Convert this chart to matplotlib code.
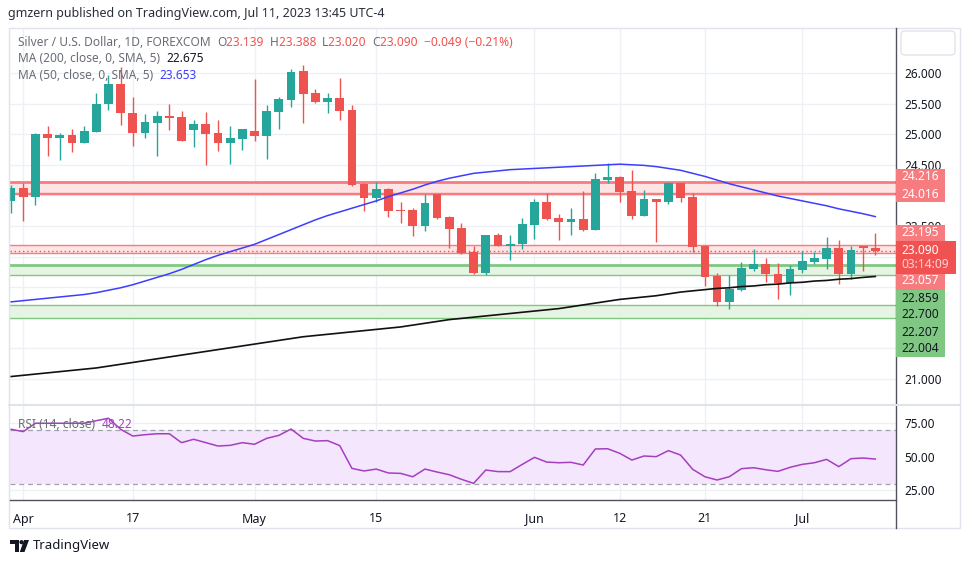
import matplotlib
matplotlib.use('Agg')
import matplotlib.pyplot as plt
from matplotlib.patches import Rectangle, FancyBboxPatch, Polygon, Circle

plt.rcParams['font.family'] = ['Noto Sans', 'DejaVu Sans']

# дневные свечи XAG/USD, 31 мар - 11 июл 2023
o = [23.913, 24.126, 23.979, 25.003, 24.943, 24.987, 24.861, 25.041, 25.489, 25.820,
     25.351, 25.025, 25.188, 25.297, 25.276, 25.074, 25.167, 25.020, 24.861, 24.927,
     25.052, 24.971, 25.368, 25.559, 26.033, 25.668, 25.531, 25.592, 25.395, 24.186,
     23.962, 24.105, 23.761, 23.761, 23.505, 24.018, 23.647, 23.467, 23.075, 22.737,
     23.353, 23.173, 23.201, 23.516, 23.892, 23.625, 23.570, 23.614, 23.435, 24.257,
     24.296, 24.072, 23.668, 23.936, 23.897, 24.208, 23.969, 23.173, 22.683, 22.263,
     22.454, 22.797, 22.879, 22.716, 22.564, 22.781, 22.907, 22.961, 23.136, 22.716,
     23.173, 23.139]
h = [24.170, 24.198, 25.025, 25.134, 25.025, 25.085, 25.134, 25.668, 25.967, 26.093,
     25.613, 25.325, 25.379, 25.493, 25.379, 25.232, 25.363, 25.232, 25.134, 25.085,
     25.902, 25.477, 25.613, 26.060, 26.131, 25.739, 25.668, 25.913, 25.477, 24.208,
     24.224, 24.126, 23.897, 23.789, 24.018, 24.018, 23.663, 23.544, 23.173, 23.353,
     23.391, 23.353, 23.626, 23.941, 24.044, 23.696, 23.789, 24.072, 24.361, 24.525,
     24.317, 24.415, 24.088, 23.936, 24.224, 24.208, 24.034, 23.190, 22.737, 22.699,
     22.907, 23.124, 22.972, 22.900, 22.863, 23.092, 23.070, 23.315, 23.271, 23.173,
     23.173, 23.388]
l = [23.717, 23.587, 23.843, 24.644, 24.578, 24.714, 24.851, 25.041, 25.395, 25.150,
     24.807, 24.943, 24.644, 25.069, 24.894, 24.796, 24.497, 24.730, 24.513, 24.742,
     24.894, 24.595, 25.085, 25.449, 25.178, 25.515, 25.341, 25.232, 24.154, 23.750,
     23.897, 23.652, 23.554, 23.342, 23.423, 23.614, 23.136, 23.047, 22.716, 22.699,
     23.173, 22.944, 23.124, 23.288, 23.598, 23.271, 23.353, 23.423, 23.435, 24.208,
     23.897, 23.614, 23.668, 23.243, 23.855, 23.897, 23.080, 22.525, 22.198, 22.144,
     22.443, 22.770, 22.590, 22.307, 22.373, 22.737, 22.879, 22.797, 22.552, 22.634,
     22.765, 23.020]
c = [24.116, 23.979, 25.003, 24.943, 24.987, 24.861, 25.052, 25.493, 25.820, 25.341,
     25.025, 25.199, 25.297, 25.270, 24.894, 25.167, 25.008, 24.861, 24.933, 25.085,
     24.971, 25.379, 25.575, 26.021, 25.662, 25.526, 25.587, 25.384, 24.170, 23.962,
     24.105, 23.750, 23.745, 23.505, 23.871, 23.636, 23.456, 23.064, 22.737, 23.353,
     23.178, 23.201, 23.533, 23.892, 23.614, 23.570, 23.614, 23.435, 24.263, 24.296,
     24.056, 23.668, 23.936, 23.897, 24.208, 23.962, 23.162, 22.672, 22.263, 22.471,
     22.809, 22.879, 22.711, 22.574, 22.792, 22.928, 22.972, 23.136, 22.716, 23.108,
     23.145, 23.090]

ma200 = [21.04, 21.06, 21.08, 21.10, 21.12, 21.14, 21.16, 21.18, 21.21, 21.24,
         21.27, 21.30, 21.33, 21.36, 21.39, 21.42, 21.45, 21.48, 21.51, 21.54,
         21.57, 21.60, 21.63, 21.66, 21.69, 21.71, 21.73, 21.75, 21.77, 21.79,
         21.81, 21.83, 21.85, 21.88, 21.91, 21.94, 21.97, 21.99, 22.01, 22.03,
         22.05, 22.07, 22.09, 22.11, 22.13, 22.15, 22.18, 22.21, 22.24, 22.27,
         22.30, 22.32, 22.34, 22.36, 22.39, 22.42, 22.44, 22.46, 22.48, 22.49,
         22.51, 22.52, 22.54, 22.55, 22.57, 22.58, 22.60, 22.61, 22.63, 22.64,
         22.66, 22.675]
ma50 = [22.26, 22.28, 22.30, 22.32, 22.34, 22.36, 22.38, 22.41, 22.45, 22.49,
        22.54, 22.60, 22.66, 22.72, 22.79, 22.87, 22.95, 23.02, 23.08, 23.14,
        23.20, 23.28, 23.36, 23.44, 23.52, 23.60, 23.67, 23.73, 23.79, 23.85,
        23.91, 23.98, 24.04, 24.10, 24.17, 24.23, 24.28, 24.32, 24.36, 24.38,
        24.40, 24.42, 24.43, 24.44, 24.45, 24.46, 24.47, 24.48, 24.49, 24.50,
        24.51, 24.50, 24.49, 24.47, 24.44, 24.41, 24.36, 24.31, 24.25, 24.19,
        24.14, 24.09, 24.04, 23.99, 23.95, 23.91, 23.87, 23.83, 23.78, 23.74,
        23.70, 23.653]
rsi = [70.3, 68.6, 74.8, 74.8, 74.8, 74.8, 74.8, 76.7, 78.5, 70.3,
       65.3, 66.3, 67.0, 67.0, 60.4, 62.9, 60.4, 57.9, 58.4, 60.4,
       59.2, 63.6, 65.8, 70.5, 63.6, 61.6, 61.9, 58.2, 41.3, 39.4,
       40.8, 37.9, 37.6, 35.1, 40.8, 38.6, 36.6, 33.2, 30.2, 40.1,
       38.9, 38.9, 44.3, 49.5, 46.0, 45.5, 45.8, 43.8, 55.7, 55.9,
       52.5, 47.5, 50.5, 50.0, 54.5, 51.2, 40.6, 35.1, 32.7, 35.1,
       41.1, 41.8, 40.3, 39.1, 42.1, 44.3, 45.5, 48.0, 42.6, 48.5,
       49.0, 48.22]

tick_pos = [1, 10, 20, 30, 43, 50, 57, 65]
tick_lbl = ['Apr', '17', 'May', '15', 'Jun', '12', '21', 'Jul']
price_ticks = [21.0, 21.5, 22.0, 22.5, 23.0, 23.5, 24.0, 24.5, 25.0, 25.5, 26.0]
hidden_ticks = [21.5, 22.0, 22.5, 23.0, 24.0]   # закрыты метками справа
rsi_ticks = [25, 50, 75]
red_zones = [(24.016, 24.216), (23.057, 23.195)]
green_zones = [(22.700, 22.859), (22.004, 22.207)]
timer = '03:14:09'

UP = '#26a69a'
DN = '#ef5350'
RED_L = '#f77c80'
GRN_L = '#81c784'
GRID = '#eef0f5'
TXT = '#131722'
GRAY = '#6a6d78'

fig = plt.figure(figsize=(9.7, 5.63), dpi=100)

def box(x0, y0, x1, y1):
    # пиксели -> доли фигуры
    return [x0 / 970, 1 - y1 / 563, (x1 - x0) / 970, (y1 - y0) / 563]

ax = fig.add_axes(box(10, 28, 896, 404))
ax2 = fig.add_axes(box(10, 406, 896, 500))

n = len(c)
xs = list(range(n))
ax.set_xlim(-0.09, 72.7)
ax.set_ylim(20.591, 26.735)
ax2.set_xlim(-0.09, 72.7)
ax2.set_ylim(17.85, 87.6)

for a in (ax, ax2):
    for s in a.spines.values():
        s.set_visible(False)
    a.set_xticks(tick_pos)
    for t in tick_pos:
        a.axvline(t, color=GRID, lw=1, zorder=0)

for p in price_ticks:
    ax.axhline(p, color=GRID, lw=1, zorder=0)
for p in rsi_ticks:
    ax2.axhline(p, color=GRID, lw=1, zorder=0)

# зоны
top_w = [2, 1]
for k, (lo, hi) in enumerate(red_zones):
    ax.axhspan(lo, hi, color='#fde4e5', lw=0, zorder=1)
    ax.axhline(hi, color=RED_L, lw=top_w[k], zorder=1.5)
    ax.axhline(lo, color=RED_L, lw=1, zorder=1.5)
ax.axhline(red_zones[0][0] + 0.03, color=RED_L, lw=1, zorder=1.5)
for k, (lo, hi) in enumerate(green_zones):
    ax.axhspan(lo, hi, color='#e6f4e4', lw=0, zorder=1)
    ax.axhline(hi, color=GRN_L, lw=top_w[k], zorder=1.5)
    ax.axhline(lo, color=GRN_L, lw=1, zorder=1.5)
ax.axhline(c[-1], color=DN, lw=1, ls=(0, (1, 2)), zorder=1.6)

# свечи
cols = [UP if c[i] >= o[i] else DN for i in xs]
ax.vlines(xs, l, h, colors=cols, lw=1, zorder=3)
bodies = [max(abs(c[i] - o[i]), 0.012) for i in xs]
bottoms = [min(c[i], o[i]) for i in xs]
ax.bar(xs, bodies, bottom=bottoms, width=0.72, color=cols, lw=0, zorder=3)

ax.plot(xs, ma200, color='#111111', lw=1.2, zorder=4)
ax.plot(xs, ma50, color='#3d3dff', lw=1.1, zorder=4)

ax.yaxis.tick_right()
ax.set_yticks(price_ticks, ['' if p in hidden_ticks else '%.3f' % p for p in price_ticks])
ax.tick_params(axis='y', length=0, pad=6, labelsize=8.5, labelcolor=TXT)
ax.tick_params(axis='x', length=0, labelbottom=False)

# RSI
ax2.axhspan(30, 70, color='#f4e6fd', lw=0, zorder=0.5)
ax2.axhline(70, color='#a0a3ab', lw=0.9, ls=(0, (4, 3)), zorder=1)
ax2.axhline(30, color='#a0a3ab', lw=0.9, ls=(0, (4, 3)), zorder=1)
ax2.plot(xs, rsi, color='#a53fbf', lw=1.1, zorder=3)
ax2.yaxis.tick_right()
ax2.set_yticks(rsi_ticks, ['%.2f' % p for p in rsi_ticks])
ax2.tick_params(axis='y', length=0, pad=6, labelsize=8.5, labelcolor=TXT)
ax2.set_xticks(tick_pos, tick_lbl)
ax2.tick_params(axis='x', length=0, pad=9, labelsize=9, labelcolor=TXT)

# оформление в пикселях
ov = fig.add_axes([0, 0, 1, 1], zorder=10)
ov.set_xlim(0, 970)
ov.set_ylim(563, 0)
ov.axis('off')
ov.patch.set_alpha(0)

ov.add_patch(Rectangle((9, 28), 951, 500, fill=False, ec='#e0e3eb', lw=1))
ov.plot([896, 896], [28, 528], color='#50535e', lw=1)
ov.plot([10, 896], [500, 500], color='#50535e', lw=1)
ov.plot([9, 960], [405, 405], color='#e0e3eb', lw=1.5)
ov.add_patch(FancyBboxPatch((901, 31), 54, 24, boxstyle='round,pad=0,rounding_size=4',
                            fc='white', ec='#e0e3eb', lw=1))

r = fig.canvas.get_renderer()

def line_of(parts, x, y, fs=8.6):
    for s, col in parts:
        t = ov.text(x, y, s, color=col, fontsize=fs, va='center', ha='left')
        x = x + t.get_window_extent(r).width

ov.text(8, 14, 'gmzern published on TradingView.com, Jul 11, 2023 13:45 UTC-4',
        fontsize=9, color='#2a2e39', va='center')

chg = c[-1] - o[-1]
line_of([('Silver / U.S. Dollar, 1D, FOREXCOM  ', GRAY),
         ('O', GRAY), ('%.3f  ' % o[-1], DN),
         ('H', GRAY), ('%.3f  ' % h[-1], DN),
         ('L', GRAY), ('%.3f  ' % l[-1], DN),
         ('C', GRAY), ('%.3f  ' % c[-1], DN),
         ('\u2212%.3f (\u2212%.2f%%)' % (-chg, -chg / o[-1] * 100), DN)], 18, 42)
line_of([('MA (200, close, 0, SMA, 5)  ', GRAY), ('%.3f' % ma200[-1], TXT)], 18, 58.5)
line_of([('MA (50, close, 0, SMA, 5)  ', GRAY), ('%.3f' % ma50[-1], '#3d3dff')], 18, 75.5)
line_of([('RSI (14, close)  ', GRAY), ('%.2f' % rsi[-1], '#a53fbf')], 18, 424)

# ценовые метки справа
def tag(y0, y1, col, w=49):
    ov.add_patch(Rectangle((896, y0), w, y1 - y0, fc=col, ec='none', zorder=11))

def tag_text(y, s, col='white', wt='semibold'):
    ov.text(901, y, s, color=col, fontsize=8.6, va='center', zorder=12, weight=wt)

tag(169, 202, RED_L)
tag_text(177, '%.3f' % red_zones[0][1])
tag_text(194, '%.3f' % red_zones[0][0])
tag(225, 240.5, RED_L)
tag_text(233, '%.3f' % red_zones[1][1])
tag(240.5, 273.5, '#f05252', w=60)
tag_text(250, '%.3f' % c[-1])
tag_text(265, timer, col='#fbd3d3')
tag(273.5, 289.5, RED_L)
tag_text(281, '%.3f' % red_zones[1][0])
tag(290, 357, GRN_L)
gy = [298.5, 315, 332, 349]
gv = [green_zones[0][1], green_zones[0][0], green_zones[1][1], green_zones[1][0]]
for y, v in zip(gy, gv):
    tag_text(y, '%.3f' % v, col=TXT, wt='normal')

# логотип TradingView
ov.add_patch(Polygon([(10, 540), (19, 540), (19, 552), (15, 552), (15, 544), (10, 544)],
                     closed=True, fc=TXT, ec='none'))
ov.add_patch(Circle((21.5, 542.2), 2.1, fc=TXT, ec='none'))
ov.add_patch(Polygon([(24, 540), (29, 540), (24.5, 552), (19.8, 552)],
                     closed=True, fc=TXT, ec='none'))
ov.text(33, 546, 'TradingView', fontsize=9.5, color=TXT, va='center')

fig.savefig('out.png', dpi=100)
